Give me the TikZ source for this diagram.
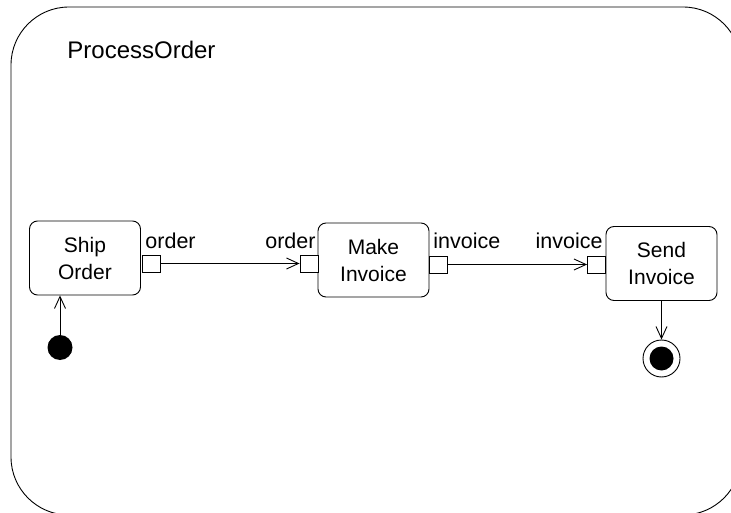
\documentclass[tikz,border=0pt]{standalone}
\usepackage{fontspec}
\setmainfont{Liberation Sans}
\usetikzlibrary{arrows.meta}
\begin{document}
\begin{tikzpicture}[x=1pt,y=-1pt,line width=0.9pt,
  action/.style={draw, rounded corners=8pt, minimum width=111pt, minimum height=74pt,
                 align=center, inner sep=0pt, font=\fontsize{21}{27}\selectfont},
  pinbox/.style={draw, fill=white, minimum width=18pt, minimum height=17pt, inner sep=0pt},
  pinlabel/.style={inner sep=0pt, font=\fontsize{21.5}{25}\selectfont},
  flow/.style={-{Straight Barb[length=12pt,width=11pt]}},
  startnode/.style={circle, fill=black, minimum size=25pt, inner sep=0pt},
]
\useasboundingbox (0,0) rectangle (731,513);
\clip (0,0) rectangle (731,513);

% enclosing activity frame
\draw[rounded corners=58pt] (11,7) rectangle (741,515);
\node[anchor=base west, inner sep=0pt, font=\fontsize{24}{28}\selectfont] (title) at (67,59) {ProcessOrder};

% actions
\node[action] (ship) at (85,258) {Ship\\Order};
\node[action] (make) at (373.5,260) {Make\\Invoice};
\node[action] (send) at (661.5,263.5) {Send\\Invoice};

% pins
\node[pinbox] (shipout) at (151,263.5) {};
\node[pinbox] (makein)  at (309,263.5) {};
\node[pinbox] (makeout) at (438.5,264.5) {};
\node[pinbox] (sendin)  at (596.5,264.5) {};

% pin labels
\node[pinlabel, anchor=base west] (l1) at (145,249) {order};
\node[pinlabel, anchor=base east] (l2) at (316,249) {order};
\node[pinlabel, anchor=base west] (l3) at (433,249) {invoice};
\node[pinlabel, anchor=base east] (l4) at (603,249) {invoice};

% initial and final nodes
\node[startnode] (init) at (60,347.5) {};
\node[circle, draw, fill=white, minimum size=37pt, inner sep=0pt] (final) at (661.5,358.5) {};
\node[circle, fill=black, minimum size=24pt, inner sep=0pt] (finaldot) at (final.center) {};

% flows
\draw[flow] (shipout.east) -- (makein.west);
\draw[flow] (makeout.east) -- (sendin.west);
\draw[flow] (init.north) -- (init |- ship.south);
\draw[flow] (send.south) -- (final.north);
\end{tikzpicture}
\end{document}
